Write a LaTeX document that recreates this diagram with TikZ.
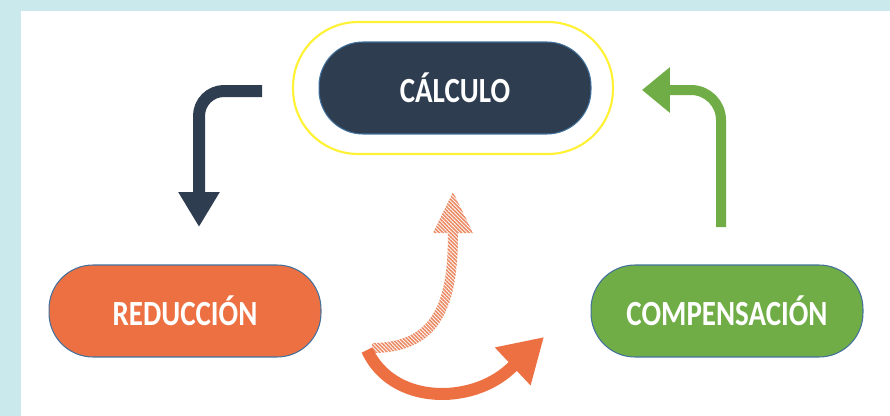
\documentclass[tikz,border=0pt]{standalone}
\usepackage{fontspec}
\setmainfont{Carlito}
\usepackage{graphicx}
\usetikzlibrary{arrows.meta}
\usetikzlibrary{patterns.meta}
\usepackage{xcolor}

\definecolor{framecyan}{HTML}{C9E9EC}
\definecolor{calcblue}{HTML}{2F3D51}
\definecolor{redorange}{HTML}{ED7042}
\definecolor{compgreen}{HTML}{70AD47}
\definecolor{pillline}{HTML}{41719C}
\definecolor{ringyellow}{HTML}{FFF133}
\definecolor{hatchorange}{HTML}{EC8A64}

\newcommand{\pilltext}[1]{\scalebox{1}[1.22]{\fontsize{16.5}{20}\selectfont\bfseries #1}}

\begin{document}
\begin{tikzpicture}[x=0.02cm,y=-0.02cm,
  pill/.style={rounded corners=0.88cm, draw=pillline, line width=0.6pt, minimum width=5.44cm, minimum height=1.84cm, text=white, inner sep=0pt},
  bentarrow/.style={line cap=butt}]

\useasboundingbox (0,0) rectangle (890,416);

% frame
\fill[framecyan] (0,0) rectangle (890,416);
\fill[white] (21,11) rectangle (890,416);

% nodes
\node[rounded corners=1.3cm, draw=ringyellow, line width=1.2pt, minimum width=6.4cm, minimum height=2.64cm] (calcring) at (453,88) {};
\node[pill, fill=calcblue] (calc) at (455,88) {\pilltext{CÁLCULO}};
\node[pill, fill=redorange] (red) at (185,311) {\pilltext{REDUCCIÓN}};
\node[pill, fill=compgreen] (comp) at (727,311) {\pilltext{COMPENSACIÓN}};

% arrow ends
\coordinate (dkstart) at (262,91);
\coordinate (dkend) at (199,227);
\coordinate (grstart) at (721,227);
\coordinate (grend) at (642,90);
\coordinate (orstart) at (367,350);
\coordinate (orend) at (544,337);

% dark arrow: calculo -> reduccion
\draw[bentarrow, calcblue, line width=0.24cm, rounded corners=0.5cm, -{Triangle[length=0.7cm,width=0.78cm]}]
  (dkstart) -- (199,91) -- (dkend);

% green arrow: compensacion -> calculo
\draw[bentarrow, compgreen, line width=0.2cm, rounded corners=0.6cm, -{Triangle[length=0.56cm,width=0.88cm]}]
  (grstart) -- (721,90) -- (grend);

% hatched arrow
\path[pattern={Lines[angle=-45,distance=1.5pt,line width=0.9pt]}, pattern color=hatchorange]
  (372,343) -- (372,353) .. controls (444,353) and (458,302) .. (458,233)
  -- (473,233) -- (453,192) -- (433,233) -- (448,233)
  .. controls (448,298) and (436,343) .. (372,343) -- cycle;

% orange arrow
\draw[bentarrow, redorange, line width=0.24cm, -{Triangle[length=0.86cm,width=0.98cm]}]
  (orstart) .. controls (392,405) and (471,405) .. (510,369) -- (orend);

\end{tikzpicture}
\end{document}
